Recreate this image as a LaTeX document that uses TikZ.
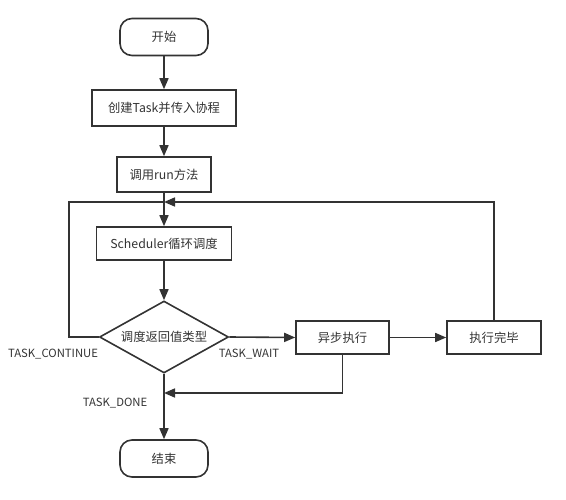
\documentclass[tikz,border=0pt]{standalone}
\usepackage{fontspec}
\setmainfont{Noto Sans CJK SC}
\usetikzlibrary{shapes.geometric,arrows.meta}
\definecolor{ln}{HTML}{333333}
\begin{document}
\begin{tikzpicture}[x=1pt,y=-1pt,
  base/.style={draw=ln,line width=1.6pt,text=ln,font=\fontsize{12.3}{14}\selectfont,inner sep=0pt},
  procbox/.style={base,rectangle},
  termbox/.style={base,rectangle,rounded corners=12pt,minimum width=88pt,minimum height=37pt},
  decbox/.style={base,diamond,minimum width=129pt,minimum height=72pt,aspect=1.8},
  conn/.style={draw=ln,line width=1.6pt},
  arr/.style={conn,-{Triangle[length=11pt,width=9pt]}},
  lbl/.style={text=ln,font=\fontsize{11.3}{13}\selectfont,inner sep=0pt}]
\useasboundingbox (0,0) rectangle (566,500);
\node[termbox] (start) at (164,37) {开始};
\node[procbox,minimum width=144pt,minimum height=36pt] (create) at (164,108) {创建Task并传入协程};
\node[procbox,minimum width=94pt,minimum height=35pt] (run) at (164,174.5) {调用run方法};
\node[procbox,minimum width=135pt,minimum height=33pt] (sched) at (164,243.5) {Scheduler循环调度};
\node[decbox] (dia) at (164,337) {调度返回值类型};
\node[procbox,minimum width=93pt,minimum height=33pt] (async) at (342.5,337.5) {异步执行};
\node[procbox,minimum width=94pt,minimum height=33pt] (done) at (494,337.5) {执行完毕};
\node[termbox] (end) at (164,458.5) {结束};
\coordinate (jtop) at (164,202);
\coordinate (jbot) at (164,393);
\coordinate (lx) at (69,337);
\draw[arr] (start) -- (create);
\draw[arr] (create) -- (run);
\draw[arr] (run) -- (sched);
\draw[arr] (sched) -- (dia);
\draw[conn] (dia.west) -- (lx) |- (jtop);
\draw[arr] (dia.east) -- (async.west);
\draw[arr] (async.east) -- (done.west);
\draw[arr] (done.north) |- (jtop);
\draw[arr] (async.south) |- (jbot);
\draw[arr] (dia.south) -- (end.north);
\node[lbl] (lcont) at (53,354) {TASK\_CONTINUE};
\node[lbl] (lwait) at (249,354) {TASK\_WAIT};
\node[lbl] (ldone) at (115,403) {TASK\_DONE};
\end{tikzpicture}
\end{document}
